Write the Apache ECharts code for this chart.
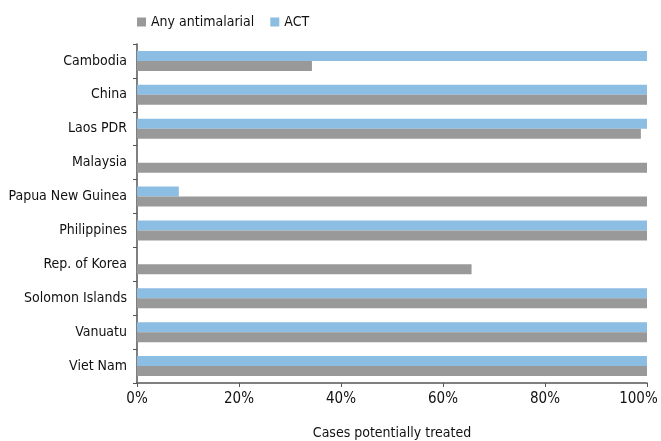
<!DOCTYPE html>
<html>
<head>
<meta charset="UTF-8">
<script src="https://cdn.jsdelivr.net/npm/echarts@6/dist/echarts.min.js"></script>
<style>
  html, body { margin: 0; padding: 0; background: #fff; }
  #main { width: 661px; height: 441px; }
</style>
</head>
<body>
<div id="main"></div>
<script>
var countries = ['Cambodia', 'China', 'Laos PDR', 'Malaysia', 'Papua New Guinea',
                 'Philippines', 'Rep. of Korea', 'Solomon Islands', 'Vanuatu', 'Viet Nam'];
// share of cases potentially treated, %
var anyAntimalarial = [34.3, 100, 98.8, 100, 100, 100, 65.6, 100, 100, 100];
var act = [100, 100, 100, 0, 8.2, 100, 0, 100, 100, 100];
var xTicks = [0, 20, 40, 60, 80, 100];

var font = '"DejaVu Sans Condensed", "Liberation Sans Narrow", sans-serif';

var chart = echarts.init(document.getElementById('main'));
var option = {
  animation: false,
  textStyle: { fontFamily: font },
  legend: {
    top: 10,
    left: 132,
    itemWidth: 9,
    itemHeight: 9,
    itemGap: 16,
    icon: 'rect',
    textStyle: { fontFamily: font, fontSize: 14, color: '#111' },
    data: ['Any antimalarial', 'ACT']
  },
  grid: { left: 137, right: 14, top: 44, bottom: 58, outerBoundsMode: 'none' },
  xAxis: {
    type: 'value',
    min: 0,
    max: 100,
    interval: 20,
    name: 'Cases potentially treated',
    nameLocation: 'middle',
    nameGap: 43,
    nameTextStyle: { fontFamily: font, fontSize: 14, color: '#111' },
    axisLine: { show: true, lineStyle: { color: '#555', width: 1.5 } },
    axisTick: { show: true, length: 4, lineStyle: { color: '#555' } },
    axisLabel: {
      fontFamily: font, fontSize: 15, color: '#111', margin: 9,
      formatter: function (v) {
        if (xTicks.indexOf(v) < 0) return '';
        // last label is nudged left so it stays inside the picture
        return v === 100 ? v + '%    ' : v + '%';
      }
    },
    splitLine: { show: false }
  },
  yAxis: {
    type: 'category',
    inverse: true,
    data: countries,
    axisLine: { show: true, lineStyle: { color: '#555', width: 1.5 } },
    axisTick: { show: true, length: 4, lineStyle: { color: '#555' } },
    axisLabel: { fontFamily: font, fontSize: 14, color: '#111', margin: 10 }
  },
  series: [
    {
      name: 'ACT',
      type: 'bar',
      data: act,
      barWidth: 10,
      barGap: '0%',
      itemStyle: { color: '#8cbde2' }
    },
    {
      name: 'Any antimalarial',
      type: 'bar',
      data: anyAntimalarial,
      barWidth: 10,
      barGap: '0%',
      itemStyle: { color: '#999999' }
    }
  ]
};
chart.setOption(option);
</script>
</body>
</html>
